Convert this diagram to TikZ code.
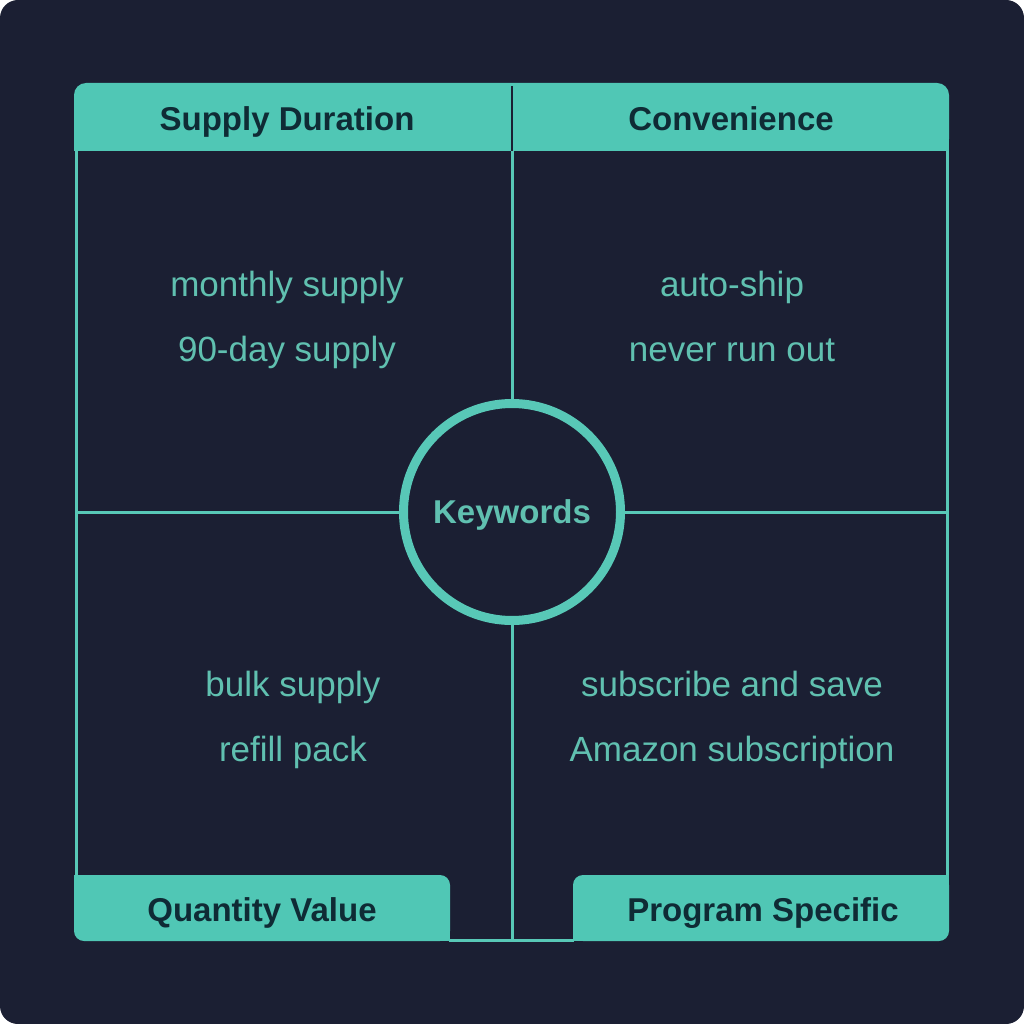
\documentclass[tikz,border=0pt]{standalone}
\usepackage{fontspec}
\setmainfont{Liberation Sans}
\definecolor{navy}{HTML}{1B1F33}
\definecolor{tealf}{HTML}{50C7B5}
\definecolor{tealline}{HTML}{58C8B7}
\definecolor{tealtext}{HTML}{60C0B0}
\definecolor{darktext}{HTML}{0F2B35}
\tikzset{
  hdrtext/.style={font=\fontsize{33}{40}\selectfont\bfseries, text=darktext, anchor=base, inner sep=0pt},
  bodytext/.style={font=\fontsize{35}{42}\selectfont, text=tealtext, anchor=base, inner sep=0pt},
  kwcirc/.style={circle, draw=tealline, line width=9pt, minimum size=217pt, inner sep=0pt, text depth=0pt, font=\fontsize{33}{40}\selectfont\bfseries, text=tealtext},
  frameline/.style={draw=tealline, line width=3pt},
}
\begin{document}
\begin{tikzpicture}[x=1pt,y=-1pt]
\useasboundingbox (0,0) rectangle (1024,1024);
\fill[white] (0,0) rectangle (1024,1024);
\fill[navy, rounded corners=18pt] (0,0) rectangle (1024,1024);
% frame lines
\coordinate (fl1) at (76,151);
\coordinate (fl2) at (76,876);
\coordinate (fr1) at (947,151);
\coordinate (fr2) at (947,876);
\coordinate (fb1) at (449,940);
\coordinate (fb2) at (574,940);
\draw[frameline] (fl1) -- (fl2);
\draw[frameline] (fr1) -- (fr2);
\draw[frameline] (fb1) -- (fb2);
% header band
\fill[tealf, rounded corners=12pt] (74,83) rectangle (949,151);
\fill[tealf] (74,135) rectangle (90,151);
\fill[tealf] (933,135) rectangle (949,151);
\draw[navy, line width=2.5pt] (512,86) -- (512,151);
% bottom tabs
\fill[tealf, rounded corners=10pt] (74,875) rectangle (450,941);
\fill[tealf] (74,875) rectangle (90,890);
\fill[tealf] (435,925) rectangle (450,941);
\fill[tealf, rounded corners=10pt] (573,875) rectangle (949,941);
\fill[tealf] (933,875) rectangle (949,890);
\fill[tealf] (573,925) rectangle (590,941);
% center
\node[kwcirc] (kw) at (512,512) {Keywords};
\coordinate (vt) at (512,151);
\coordinate (vb) at (512,940);
\coordinate (hl) at (76,512);
\coordinate (hr) at (947,512);
\draw[frameline] (vt) -- (kw.north);
\draw[frameline] (kw.south) -- (vb);
\draw[frameline] (hl) -- (kw.west);
\draw[frameline] (kw.east) -- (hr);
% header texts
\node[hdrtext] (h1) at (287,131) {Supply Duration};
\node[hdrtext] (h2) at (731,131) {Convenience};
\node[hdrtext] (h3) at (262,921) {Quantity Value};
\node[hdrtext] (h4) at (763,921) {Program Specific};
% body texts
\node[bodytext] (t1) at (287,296) {monthly supply};
\node[bodytext] (t2) at (287,361) {90-day supply};
\node[bodytext] (t3) at (732,296) {auto-ship};
\node[bodytext] (t4) at (732,361) {never run out};
\node[bodytext] (t5) at (293,696) {bulk supply};
\node[bodytext] (t6) at (293,761) {refill pack};
\node[bodytext] (t7) at (732,696) {subscribe and save};
\node[bodytext] (t8) at (732,761) {Amazon subscription};
\end{tikzpicture}
\end{document}
